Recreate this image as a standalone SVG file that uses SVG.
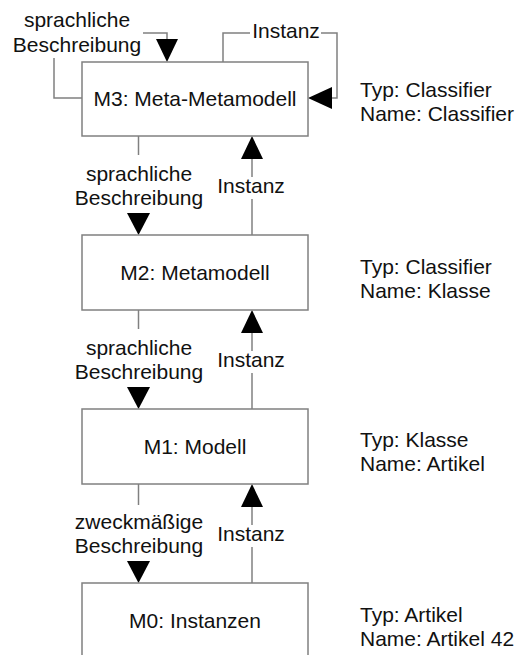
<svg xmlns="http://www.w3.org/2000/svg" width="516" height="655" viewBox="0 0 516 655">
  <defs>
    <style>
      .box { fill: #ffffff; stroke: #808080; stroke-width: 1.5; }
      .line { fill: none; stroke: #808080; stroke-width: 1.5; }
      .head { fill: #000000; stroke: none; }
      text { font-family: "Liberation Sans", Arial, sans-serif; font-size: 21px; fill: #111111; }
      .c { text-anchor: middle; }
    </style>
  </defs>
  <rect width="516" height="655" fill="#ffffff"/>

  <!-- connectors -->
  <g id="connectors">
    <!-- M3 self loop: language description (left) -->
    <polyline class="line" points="82,98 54,98 54,58"/>
    <polyline class="line" points="143,33 167,33 167,40"/>
    <polygon class="head" points="156,39 178,39 167,62"/>
    <text class="c" x="77" y="27">sprachliche</text>
    <text class="c" x="77" y="52">Beschreibung</text>

    <!-- M3 self loop: instance (right) -->
    <polyline class="line" points="223,62 223,33 250,33"/>
    <polyline class="line" points="321,33 337,33 337,98 331,98"/>
    <polygon class="head" points="332,87 332,109 308,98"/>
    <text class="c" x="286" y="38">Instanz</text>

    <!-- M3 -> M2 -->
    <line class="line" x1="138.5" y1="136" x2="138.5" y2="155"/>
    <polygon class="head" points="127,213 150,213 138.5,235"/>
    <text class="c" x="139" y="181">sprachliche</text>
    <text class="c" x="139" y="205">Beschreibung</text>
    <line class="line" x1="252" y1="158" x2="252" y2="177"/>
    <line class="line" x1="252" y1="199" x2="252" y2="235"/>
    <polygon class="head" points="241,159 263,159 252,136"/>
    <text class="c" x="251" y="193">Instanz</text>

    <!-- M2 -> M1 -->
    <line class="line" x1="138.5" y1="310" x2="138.5" y2="329"/>
    <polygon class="head" points="127,387 150,387 138.5,409"/>
    <text class="c" x="139" y="355">sprachliche</text>
    <text class="c" x="139" y="379">Beschreibung</text>
    <line class="line" x1="252" y1="332" x2="252" y2="351"/>
    <line class="line" x1="252" y1="373" x2="252" y2="409"/>
    <polygon class="head" points="241,333 263,333 252,310"/>
    <text class="c" x="251" y="367">Instanz</text>

    <!-- M1 -> M0 -->
    <line class="line" x1="138.5" y1="484" x2="138.5" y2="505"/>
    <polygon class="head" points="127,561 150,561 138.5,583"/>
    <text class="c" x="139" y="529">zweckmäßige</text>
    <text class="c" x="139" y="553">Beschreibung</text>
    <line class="line" x1="252" y1="506" x2="252" y2="525"/>
    <line class="line" x1="252" y1="547" x2="252" y2="583"/>
    <polygon class="head" points="241,507 263,507 252,484"/>
    <text class="c" x="251" y="541">Instanz</text>
  </g>

  <!-- levels -->
  <g id="m3">
    <rect class="box" x="82" y="62" width="226" height="74"/>
    <text class="c" x="195" y="106">M3: Meta-Metamodell</text>
    <text x="360" y="97">Typ: Classifier</text>
    <text x="360" y="121">Name: Classifier</text>
  </g>
  <g id="m2">
    <rect class="box" x="82" y="235" width="226" height="75"/>
    <text class="c" x="195" y="280">M2: Metamodell</text>
    <text x="360" y="274">Typ: Classifier</text>
    <text x="360" y="298">Name: Klasse</text>
  </g>
  <g id="m1">
    <rect class="box" x="82" y="409" width="226" height="75"/>
    <text class="c" x="195" y="454">M1: Modell</text>
    <text x="360" y="447">Typ: Klasse</text>
    <text x="360" y="471">Name: Artikel</text>
  </g>
  <g id="m0">
    <rect class="box" x="82" y="583" width="226" height="80"/>
    <text class="c" x="195" y="628">M0: Instanzen</text>
    <text x="360" y="622">Typ: Artikel</text>
    <text x="360" y="646">Name: Artikel 42</text>
  </g>
</svg>
